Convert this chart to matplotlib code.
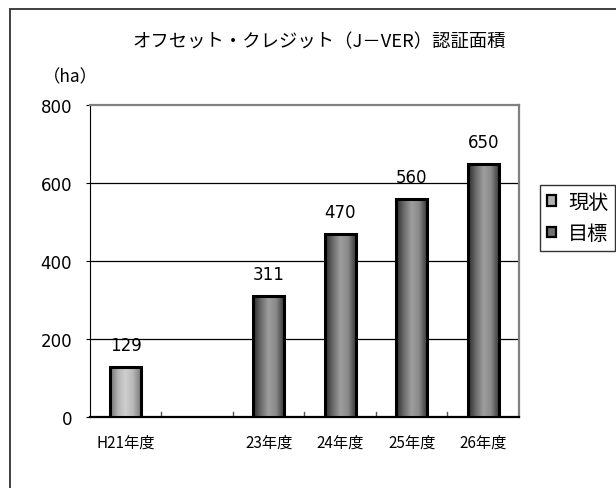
import numpy as np
import matplotlib
matplotlib.use("Agg")
import matplotlib.pyplot as plt
from matplotlib.colors import LinearSegmentedColormap
from matplotlib.patches import Patch
from matplotlib.lines import Line2D

plt.rcParams["font.family"] = ["Noto Sans CJK JP", "DejaVu Sans"]

# ── Data ──────────────────────────────────────────────────────────────────────
CATEGORIES = ["H21年度", "", "23年度", "24年度", "25年度", "26年度"]
ACTUAL = [129, None, None, None, None, None]       # 現状
TARGET = [None, None, 311, 470, 560, 650]          # 目標
Y_TICKS = [0, 200, 400, 600, 800]
TITLE = "オフセット・クレジット（J－VER）認証面積"
UNIT = "（ha）"
LEGEND_LABELS = ["現状", "目標"]

cmap_actual = LinearSegmentedColormap.from_list(
    "actual", ["#6e6e6e", "#b4b4b4", "#cfcfcf", "#b8b8b8", "#7a7a7a"])
cmap_target = LinearSegmentedColormap.from_list(
    "target", ["#2c2c2c", "#6a6a6a", "#9e9e9e", "#8a8a8a", "#3a3a3a"])


def gradient_bars(ax, xs, vals, cmap, width=0.43):
    grad = np.linspace(0, 1, 64).reshape(1, -1)
    for x, v in zip(xs, vals):
        if v is None:
            continue
        bar = ax.bar(x, v, width=width, color="none", edgecolor="black",
                     linewidth=2.2, zorder=4)[0]
        im = ax.imshow(grad, cmap=cmap, aspect="auto", zorder=3,
                       extent=[x - width / 2, x + width / 2, 0, v])
        im.set_clip_path(bar)
        ax.text(x, v + 33, f"{v}", ha="center", va="bottom", fontsize=12,
                family=["DejaVu Sans"], zorder=5)


fig = plt.figure(figsize=(6.16, 4.89), dpi=100)

# outer chart frame (cut off at right / bottom)
fig.add_artist(Line2D([0.016, 0.016], [0, 0.98], color="#404040", lw=1.4,
                      transform=fig.transFigure))
fig.add_artist(Line2D([0.016, 1.0], [0.98, 0.98], color="#404040", lw=1.4,
                      transform=fig.transFigure))

ax = fig.add_axes([0.1461, 0.1452, 0.6964, 0.6375])
x = np.arange(len(CATEGORIES))
gradient_bars(ax, x, ACTUAL, cmap_actual)
gradient_bars(ax, x, TARGET, cmap_target)

ax.set_xlim(-0.5, len(CATEGORIES) - 0.5)
ax.set_ylim(0, 800)
ax.set_yticks(Y_TICKS)
ax.set_yticklabels([str(t) for t in Y_TICKS], fontsize=12, family=["DejaVu Sans"])
ax.tick_params(axis="y", length=3, pad=10)
for t in Y_TICKS[1:-1]:
    ax.axhline(t, color="black", lw=0.9, zorder=1)

ax.set_xticks(x)
ax.set_xticklabels(CATEGORIES, fontsize=11)
ax.tick_params(axis="x", length=0, pad=12)
for b in np.arange(0.5, len(CATEGORIES) - 0.5):
    ax.plot([b, b], [0, 12], color="#555555", lw=1, zorder=2)

for side in ["top", "right"]:
    ax.spines[side].set_color("#808080")
    ax.spines[side].set_linewidth(1.6)
ax.spines["left"].set_color("black")
ax.spines["bottom"].set_color("black")
ax.spines["bottom"].set_linewidth(1.6)

fig.text(0.518, 0.914, TITLE, ha="center", va="center", fontsize=13.2)
fig.text(0.1136, 0.8425, UNIT, ha="center", va="center", fontsize=12.5)

handles = [
    Patch(facecolor="#b0b0b0", edgecolor="black", lw=1.6),
    Patch(facecolor="#707070", edgecolor="black", lw=1.6),
]
leg = fig.legend(handles, LEGEND_LABELS, loc="upper left",
                 bbox_to_anchor=(0.8766, 0.6196), fontsize=14.5, frameon=True,
                 fancybox=False, edgecolor="black", handlelength=0.45,
                 handleheight=0.45, handletextpad=0.6, borderpad=0.35,
                 labelspacing=0.5, borderaxespad=0)
leg.get_frame().set_linewidth(1.0)

fig.savefig("out.png", dpi=100)
